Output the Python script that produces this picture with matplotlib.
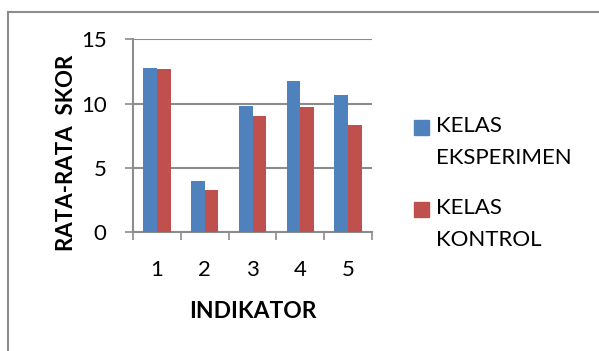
import numpy as np
import matplotlib.pyplot as plt
from matplotlib.patches import Rectangle
from matplotlib.lines import Line2D

# Chart data
indikator = ["1", "2", "3", "4", "5"]
eksperimen = [12.75, 3.95, 9.82, 11.76, 10.67]
kontrol = [12.67, 3.30, 9.04, 9.72, 8.34]
series_labels = ["KELAS\nEKSPERIMEN", "KELAS\nKONTROL"]

blue = "#4F81BD"
red = "#C0504D"
grid_grey = "#8C8C8C"

plt.rcParams["font.family"] = ["Lato", "DejaVu Sans"]

fig = plt.figure(figsize=(5.99, 3.51), dpi=100)
ax = fig.add_axes([133 / 599, 1 - 232.3 / 351, (372 - 133) / 599, (232.3 - 39.3) / 351])

x = np.arange(1, len(indikator) + 1)
w = 0.286
ax.bar(x - w / 2, eksperimen, width=w, color=blue, zorder=3)
ax.bar(x + w / 2, kontrol, width=w, color=red, zorder=3)

ax.set_xlim(0.5, 5.5)
ax.set_ylim(0, 15)
ax.set_yticks([0, 5, 10, 15])
ax.yaxis.grid(True, color=grid_grey, linewidth=1.5, zorder=0)

# category boundaries get the tick marks, labels sit at the centres
ax.set_xticks(np.arange(0.5, 6, 1))
ax.set_xticklabels([])
ax.set_xticks(x, minor=True)
ax.set_xticklabels(indikator, minor=True)
ax.tick_params(axis="x", which="major", length=6, width=1.2, color=grid_grey, direction="out")
ax.tick_params(axis="x", which="minor", length=0, pad=20, labelsize=16)
ax.tick_params(axis="y", length=6, width=1.2, color=grid_grey, pad=13, labelsize=16)

for side in ["top", "right"]:
    ax.spines[side].set_visible(False)
for side in ["left", "bottom"]:
    ax.spines[side].set_color(grid_grey)
    ax.spines[side].set_linewidth(1.5)

ax.set_xlabel("INDIKATOR", fontsize=16.5, fontweight="bold", labelpad=15)
ax.set_ylabel("RATA-RATA  SKOR", fontsize=16, fontweight="bold")
ax.yaxis.set_label_coords(-0.235, 0.41)

# legend drawn by hand: square beside the first line of each label
for i, (lab, col) in enumerate(zip(series_labels, [blue, red])):
    ytop = 1 - (127 + i * 82) / 351
    fig.patches.append(Rectangle((414 / 599, ytop - 7.5 / 351), 15 / 599, 15 / 351,
                                 transform=fig.transFigure, color=col))
    fig.text(436 / 599, ytop + 11 / 351, lab, fontsize=16, va="top", ha="left",
             linespacing=1.75)

# chart area border (runs off the right and bottom of the image)
fig.add_artist(Line2D([7.6 / 599, 1.01], [1 - 11.5 / 351] * 2, transform=fig.transFigure,
                      color="#8C8C8C", linewidth=1.5))
fig.add_artist(Line2D([7.6 / 599] * 2, [1 - 11.5 / 351, -0.01], transform=fig.transFigure,
                      color="#8C8C8C", linewidth=1.5))

fig.savefig("out.png", dpi=100)
